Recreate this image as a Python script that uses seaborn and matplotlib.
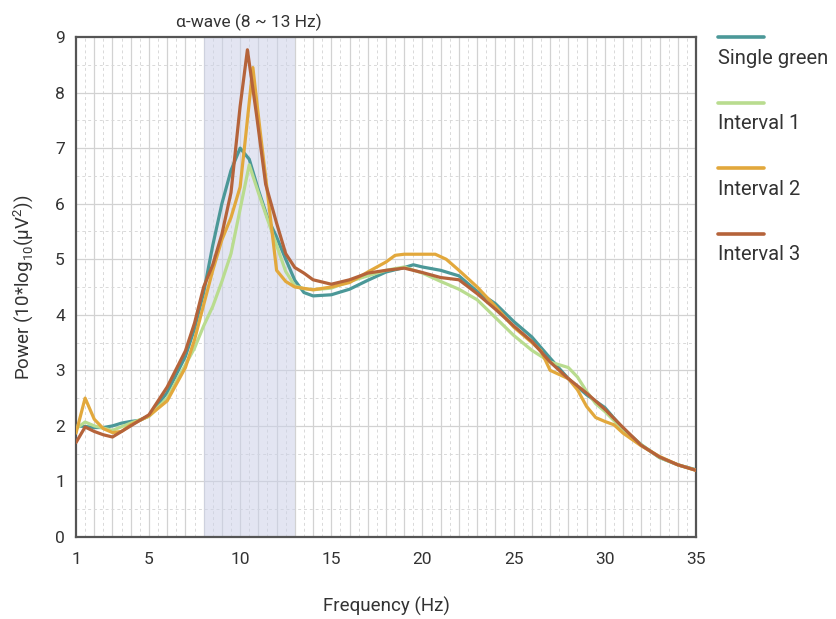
import numpy as np
import pandas as pd
import matplotlib
matplotlib.use("Agg")
import matplotlib.pyplot as plt
from matplotlib.lines import Line2D
from matplotlib.ticker import MultipleLocator
import seaborn as sns

# ---- data (Hz, 10*log10(uV^2)) ----
series_names = ["Single green", "Interval 1", "Interval 2", "Interval 3"]
series_colors = ["#4b9898", "#b9dc8f", "#e2a83c", "#b5633a"]

freq_single = [1, 1.5, 2, 2.5, 3, 3.5, 4, 4.5, 5, 6, 7, 7.5, 8, 8.5, 9, 9.5, 10, 10.5,
               11, 11.5, 12, 12.5, 13, 13.5, 14, 15, 16, 17, 18, 19, 19.5, 20, 21, 22,
               23, 24, 25, 26, 27, 28, 29, 30, 31, 32, 33, 34, 35]
power_single = [2.0, 1.99, 1.97, 1.97, 2.0, 2.05, 2.08, 2.1, 2.18, 2.6, 3.25, 3.75, 4.4, 5.25,
                6.0, 6.6, 7.0, 6.8, 6.25, 5.75, 5.4, 5.0, 4.62, 4.4, 4.34, 4.36, 4.46, 4.62,
                4.77, 4.85, 4.9, 4.86, 4.8, 4.7, 4.42, 4.2, 3.88, 3.6, 3.22, 2.85, 2.56,
                2.33, 1.95, 1.66, 1.43, 1.3, 1.21]

freq_int1 = [1, 1.5, 2, 2.5, 3, 4, 5, 6, 7, 7.5, 8, 8.5, 9, 9.5, 10, 10.5, 11, 11.5, 12,
             12.5, 13, 13.5, 14, 15, 16, 17, 18, 19, 20, 21, 22, 23, 24, 25, 26, 27, 28,
             28.5, 29, 29.5, 30, 31, 32, 33, 34, 35]
power_int1 = [1.95, 2.07, 2.0, 1.96, 1.92, 2.05, 2.17, 2.5, 3.1, 3.4, 3.8, 4.15, 4.6, 5.1,
              5.9, 6.7, 6.2, 5.72, 5.25, 4.78, 4.52, 4.47, 4.45, 4.48, 4.6, 4.7, 4.8, 4.86,
              4.75, 4.6, 4.46, 4.27, 3.95, 3.63, 3.36, 3.15, 3.05, 2.88, 2.62, 2.4, 2.26,
              1.93, 1.66, 1.43, 1.3, 1.2]

freq_int2 = [1, 1.5, 2, 2.5, 3, 3.5, 4, 5, 6, 7, 7.5, 8, 8.5, 9, 9.5, 10, 10.3, 10.7, 11.1,
             11.5, 12, 12.5, 13, 14, 15, 16, 17, 18, 18.5, 19, 20, 20.7, 21.3, 22, 23, 24,
             25, 26, 26.5, 27, 28, 28.5, 29, 29.5, 30, 30.5, 31, 32, 33, 34, 35]
power_int2 = [1.87, 2.5, 2.12, 1.95, 1.88, 1.9, 2.02, 2.18, 2.45, 3.05, 3.55, 4.18, 4.8,
              5.35, 5.75, 6.3, 7.2, 8.45, 7.3, 6.2, 4.8, 4.6, 4.5, 4.45, 4.5, 4.58, 4.77,
              4.95, 5.07, 5.09, 5.09, 5.09, 5.0, 4.8, 4.5, 4.15, 3.78, 3.5, 3.35, 3.0, 2.85,
              2.65, 2.35, 2.15, 2.08, 2.02, 1.87, 1.64, 1.45, 1.3, 1.2]

freq_int3 = [1, 1.5, 2, 2.5, 3, 3.5, 4, 5, 6, 7, 7.5, 8, 8.5, 9, 9.5, 10, 10.4, 10.9, 11.4,
             12, 12.5, 13, 13.5, 14, 15, 16, 17, 18, 19, 20, 21, 22, 23, 24, 25, 26, 27,
             28, 29, 30, 31, 32, 33, 34, 35]
power_int3 = [1.7, 1.98, 1.9, 1.84, 1.8, 1.9, 2.0, 2.2, 2.7, 3.35, 3.85, 4.5, 4.9, 5.45, 6.2,
              7.75, 8.77, 7.6, 6.35, 5.65, 5.1, 4.85, 4.75, 4.63, 4.55, 4.63, 4.75, 4.8,
              4.84, 4.76, 4.67, 4.63, 4.38, 4.1, 3.8, 3.52, 3.15, 2.85, 2.59, 2.3, 1.97,
              1.65, 1.44, 1.3, 1.2]

alpha_band = (8, 13)
x_ticks = [1, 5, 10, 15, 20, 25, 30, 35]

frames = []
for name, f, p in zip(series_names,
                      [freq_single, freq_int1, freq_int2, freq_int3],
                      [power_single, power_int1, power_int2, power_int3]):
    frames.append(pd.DataFrame({"freq": f, "power": p, "series": name}))
df = pd.concat(frames, ignore_index=True)

sns.set_theme(style="white")
plt.rcParams["font.family"] = ["Roboto", "DejaVu Sans"]
plt.rcParams["mathtext.fontset"] = "custom"
plt.rcParams["mathtext.rm"] = "Roboto"
text_color = "#333333"

fig = plt.figure(figsize=(8.36, 6.19), dpi=100)
ax = fig.add_axes([76 / 836, 82 / 619, 620 / 836, 500 / 619])

ax.axvspan(*alpha_band, color="#ccd1e8", alpha=0.55, lw=0, zorder=1)

sns.lineplot(data=df, x="freq", y="power", hue="series", hue_order=series_names,
             palette=series_colors, estimator=None, sort=False, linewidth=2.3,
             legend=False, ax=ax, zorder=3)

ax.set_xlim(1, 35)
ax.set_ylim(0, 9)
ax.set_xticks(x_ticks)
ax.yaxis.set_major_locator(MultipleLocator(1))
ax.yaxis.set_minor_locator(MultipleLocator(0.5))

# grid: solid at every Hz / unit, dashed in between
for v in np.arange(2, 35, 1):
    ax.axvline(v, color="#d2d2d2", lw=0.9, zorder=0)
for v in np.arange(1.5, 35, 1):
    ax.axvline(v, color="#d9d9d9", lw=0.7, ls=(0, (3, 3)), zorder=0)
for v in np.arange(1, 9, 1):
    ax.axhline(v, color="#d2d2d2", lw=0.9, zorder=0)
for v in np.arange(0.5, 9, 1):
    ax.axhline(v, color="#d9d9d9", lw=0.7, ls=(0, (3, 3)), zorder=0)

ax.tick_params(axis="both", which="both", direction="in", colors="#333333",
               labelsize=12.5)
ax.tick_params(axis="x", which="major", length=0, pad=11)
ax.tick_params(axis="y", which="major", length=4, width=1, pad=8)
ax.tick_params(axis="y", which="minor", length=3, width=1)
ax.tick_params(axis="x", which="minor", length=3, width=1)
ax.tick_params(top=False, right=False, which="both")
# integer tick marks along the bottom
ax.set_xticks(np.arange(1, 36, 1), minor=True)

for s in ax.spines.values():
    s.set_color("#555555")
    s.set_linewidth(1.6)

ax.set_xlabel("Frequency (Hz)", fontsize=13.5, color=text_color, labelpad=21)
ax.set_ylabel(r"Power (10*log$_{\mathregular{10}}$(μV$^{\mathregular{2}}$))",
              fontsize=13.5, color=text_color, labelpad=14)

ax.text(np.mean(alpha_band), 9.1, "α-wave (8 ~ 13 Hz)", ha="center", va="bottom",
        fontsize=12.5, color=text_color)

# legend: line sample above each label
for i, (name, col) in enumerate(zip(series_names, series_colors)):
    y_line = 1 - (37 + i * 65.5) / 619
    fig.add_artist(Line2D([718 / 836, 764 / 836], [y_line, y_line], color=col, lw=2.6))
    fig.text(718 / 836, y_line - 21 / 619, name, ha="left", va="center",
             fontsize=14.5, color=text_color)

fig.savefig("out.png", dpi=100)
